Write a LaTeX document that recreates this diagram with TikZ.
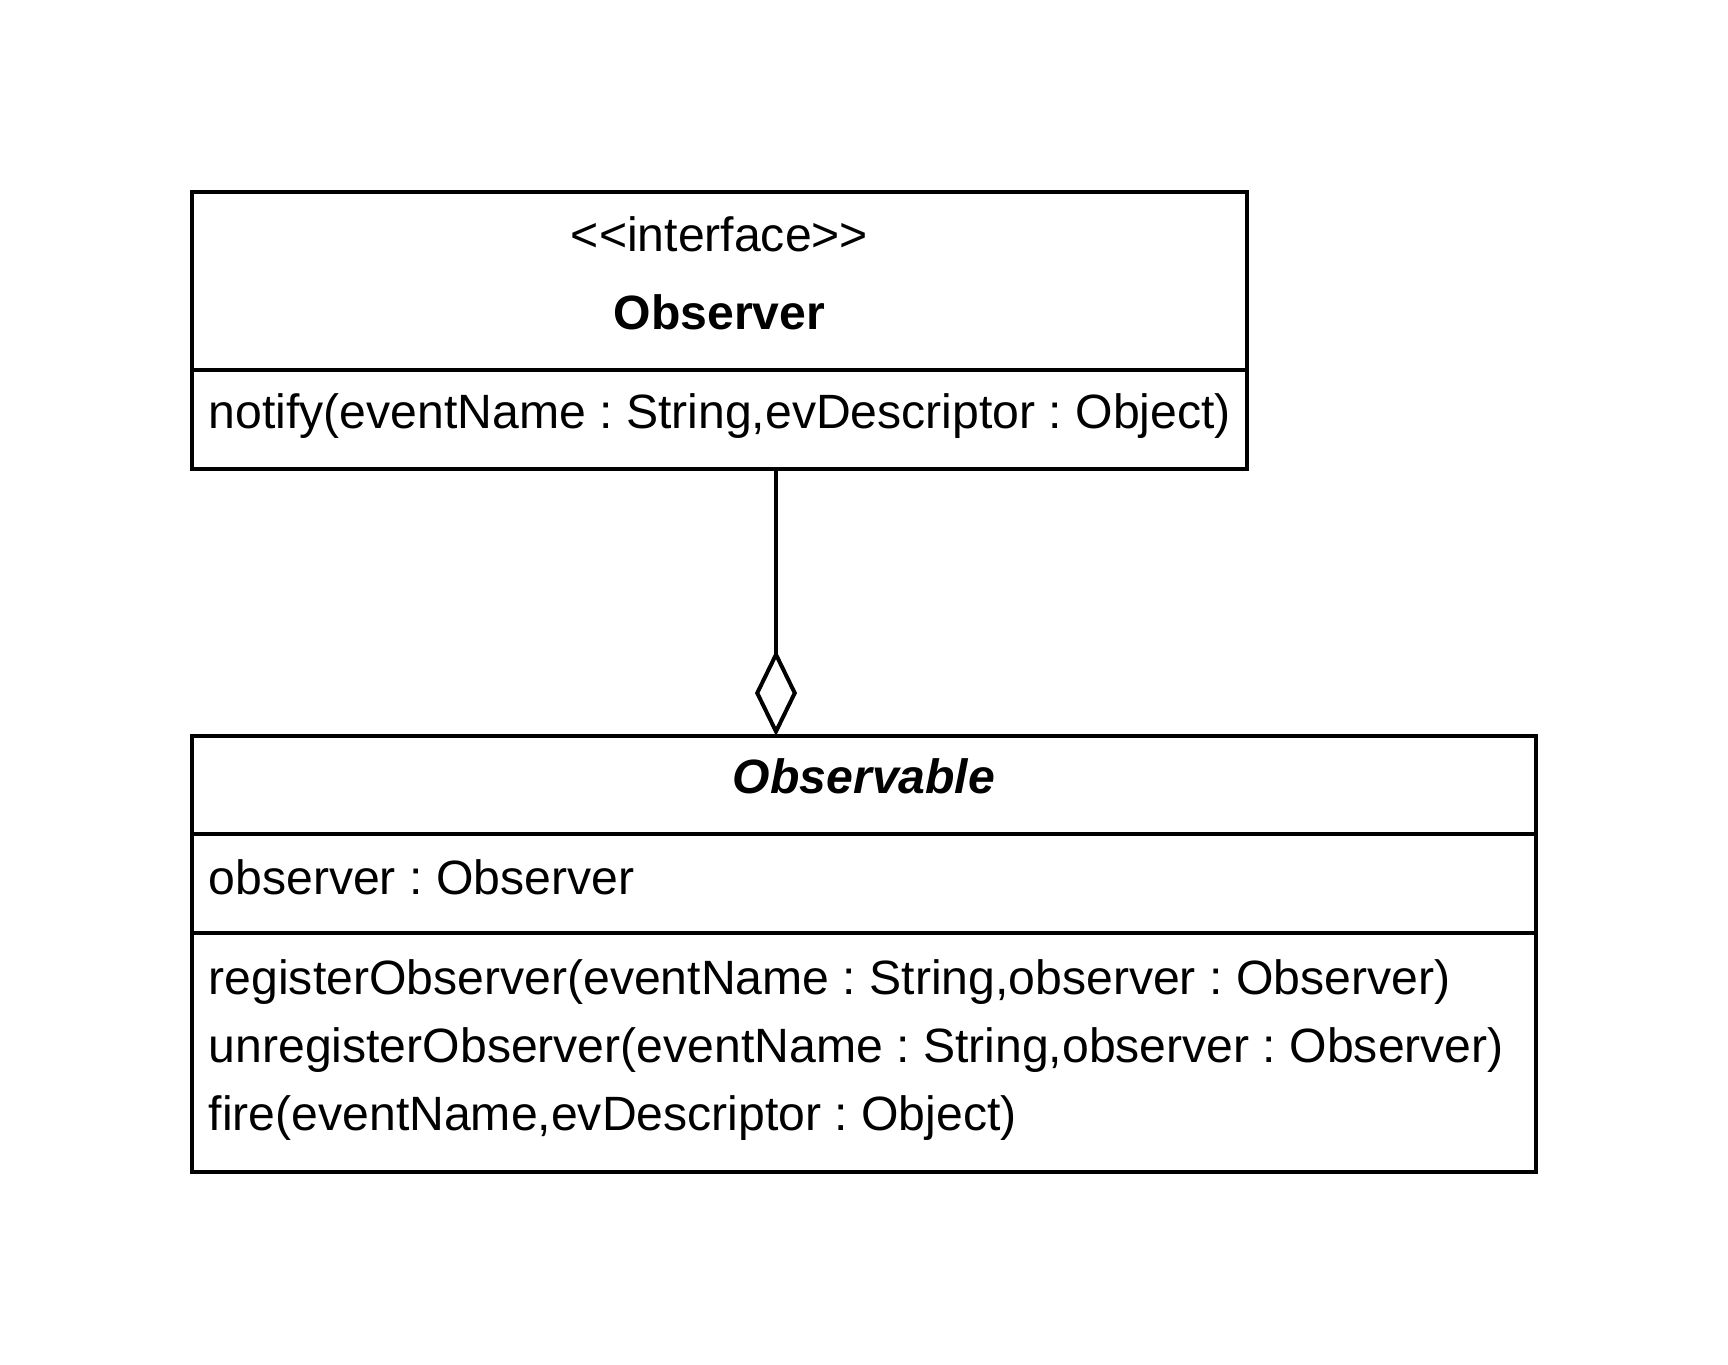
\documentclass[tikz,border=0pt]{standalone}
\usepackage{fontspec}
\setmainfont{Liberation Sans}
\usetikzlibrary{arrows.meta}
\frenchspacing
\begin{document}
\begin{tikzpicture}[
    compartment/.style={
        rectangle,
        draw=black,
        line width=0.04cm,
        inner sep=0pt,
        outer sep=0pt,
        anchor=north west
    },
    classname/.style={
        font=\fontsize{13.7}{16}\selectfont,
        inner sep=0pt,
        anchor=base
    },
    member/.style={
        classname,
        anchor=base west
    },
    aggregation/.style={
        line width=0.04cm,
        -{Diamond[open, length=0.86cm, width=0.42cm]}
    }
]
\useasboundingbox (0,0) rectangle (17.28,-13.64);

\node[compartment, minimum width=10.55cm, minimum height=1.78cm] (observerHead) at (1.92,-1.92) {};
\node[compartment, minimum width=10.55cm, minimum height=0.99cm] (observerOps) at (observerHead.south west) {};
\node[classname] (observerStereo) at (7.195,-2.51) {<\kern0pt<interface>\kern0pt>};
\node[classname, font=\fontsize{13.7}{16}\selectfont\bfseries] (observerName) at (7.195,-3.29) {Observer};
\node[member] (notifyOp) at (2.08,-4.28) {notify(eventName : String,evDescriptor : Object)};

\node[compartment, minimum width=13.44cm, minimum height=0.98cm] (observableHead) at (1.92,-7.36) {};
\node[compartment, minimum width=13.44cm, minimum height=0.99cm] (observableAttrs) at (observableHead.south west) {};
\node[compartment, minimum width=13.44cm, minimum height=2.39cm] (observableOps) at (observableAttrs.south west) {};
\node[classname, font=\fontsize{13.7}{16}\selectfont\bfseries\itshape] (observableName) at (8.64,-7.93) {Observable};
\node[member] (observerAttr) at (2.08,-8.94) {observer : Observer};
\node[member] (registerOp) at (2.08,-9.94) {registerObserver(eventName : String,observer : Observer)};
\node[member] (unregisterOp) at (2.08,-10.62) {unregisterObserver(eventName : String,observer : Observer)};
\node[member] (fireOp) at (2.08,-11.30) {fire(eventName,evDescriptor : Object)};

\coordinate (linkX) at (7.76,0);
\draw[aggregation] (observerOps.south -| linkX) -- (observableHead.north -| linkX);

\end{tikzpicture}
\end{document}
